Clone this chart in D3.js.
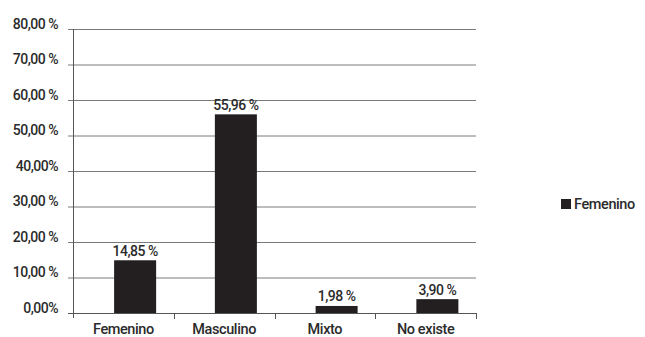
<!DOCTYPE html>
<html>
<head>
<meta charset="utf-8">
<script src="https://cdn.jsdelivr.net/npm/d3@7/dist/d3.min.js"></script>
<style>
  html, body { margin: 0; padding: 0; background: #fff; }
  svg { display: block; }
  text { font-family: Roboto, "Noto Sans", sans-serif; font-weight: 500; fill: #2b2b2b; }
</style>
</head>
<body>
<svg id="chart" width="645" height="337"></svg>
<script>
// Categories and their percentages
const categories = ["Femenino", "Masculino", "Mixto", "No existe"];
const values = [14.85, 55.96, 1.98, 3.90];
const valueLabels = ["14,85 %", "55,96 %", "1,98 %", "3,90 %"];

// Y axis ticks and how they are printed
const tickValues = [0, 10, 20, 30, 40, 50, 60, 70, 80];
const tickLabels = ["0,00%", "10,00 %", "20,00 %", "30,00 %", "40,00%", "50,00 %", "60,00 %", "70,00 %", "80,00 %"];

const seriesName = "Femenino";

const svg = d3.select("#chart");
const plotLeft = 73, plotRight = 476, plotTop = 29, plotBottom = 313;

// Category slots (labels, separators) and the bars sitting inside them
const xSlot = d3.scaleBand().domain(categories).range([plotLeft, plotRight]).padding(0);
const x = d3.scaleBand().domain(categories).range([plotLeft, plotRight])
  .paddingInner(0.583).paddingOuter(0.2915).align(0.7);
const y = d3.scaleLinear().domain([0, 80]).range([plotBottom, plotTop]);

// Horizontal gridlines with short outside ticks
svg.append("g").selectAll("line").data(tickValues).join("line")
  .attr("x1", plotLeft - 5).attr("x2", plotRight)
  .attr("y1", d => y(d) + 0.5).attr("y2", d => y(d) + 0.5)
  .attr("stroke", "#7a7a7a").attr("stroke-width", 1);

// Y tick labels
svg.append("g").selectAll("text").data(tickValues).join("text")
  .attr("x", 58).attr("y", d => y(d) - 0.5)
  .attr("text-anchor", "end").attr("font-size", 14)
  .attr("letter-spacing", -0.5)
  .text((d, i) => tickLabels[i]);

// Bars
svg.append("g").selectAll("rect").data(values).join("rect")
  .attr("x", (d, i) => x(categories[i]))
  .attr("width", x.bandwidth())
  .attr("y", d => y(d))
  .attr("height", d => plotBottom - y(d))
  .attr("fill", "#231f20");

// Value labels above bars
svg.append("g").selectAll("text").data(values).join("text")
  .attr("x", (d, i) => x(categories[i]) + x.bandwidth() / 2)
  .attr("y", d => y(d) - 4.5)
  .attr("text-anchor", "middle").attr("font-size", 14)
  .attr("letter-spacing", -0.5)
  .text((d, i) => valueLabels[i]);

// Y axis line
svg.append("line")
  .attr("x1", plotLeft + 0.5).attr("x2", plotLeft + 0.5)
  .attr("y1", plotTop).attr("y2", plotBottom + 5)
  .attr("stroke", "#555").attr("stroke-width", 1);

// X axis line with category separators
svg.append("line")
  .attr("x1", plotLeft - 5).attr("x2", plotRight + 0.5)
  .attr("y1", plotBottom + 0.5).attr("y2", plotBottom + 0.5)
  .attr("stroke", "#555").attr("stroke-width", 1);
svg.append("g").selectAll("line").data(categories).join("line")
  .attr("x1", d => Math.round(xSlot(d) + xSlot.bandwidth()) + 0.5)
  .attr("x2", d => Math.round(xSlot(d) + xSlot.bandwidth()) + 0.5)
  .attr("y1", plotBottom).attr("y2", plotBottom + 6)
  .attr("stroke", "#555").attr("stroke-width", 1);

// Category labels
svg.append("g").selectAll("text").data(categories).join("text")
  .attr("x", d => xSlot(d) + xSlot.bandwidth() / 2)
  .attr("y", 334)
  .attr("text-anchor", "middle").attr("font-size", 14.5)
  .attr("letter-spacing", -0.4)
  .text(d => d);

// Legend
svg.append("rect").attr("x", 561).attr("y", 199).attr("width", 10).attr("height", 10).attr("fill", "#231f20");
svg.append("text").attr("x", 574).attr("y", 209).attr("font-size", 14.5)
  .attr("letter-spacing", -0.4).text(seriesName);
</script>
</body>
</html>
